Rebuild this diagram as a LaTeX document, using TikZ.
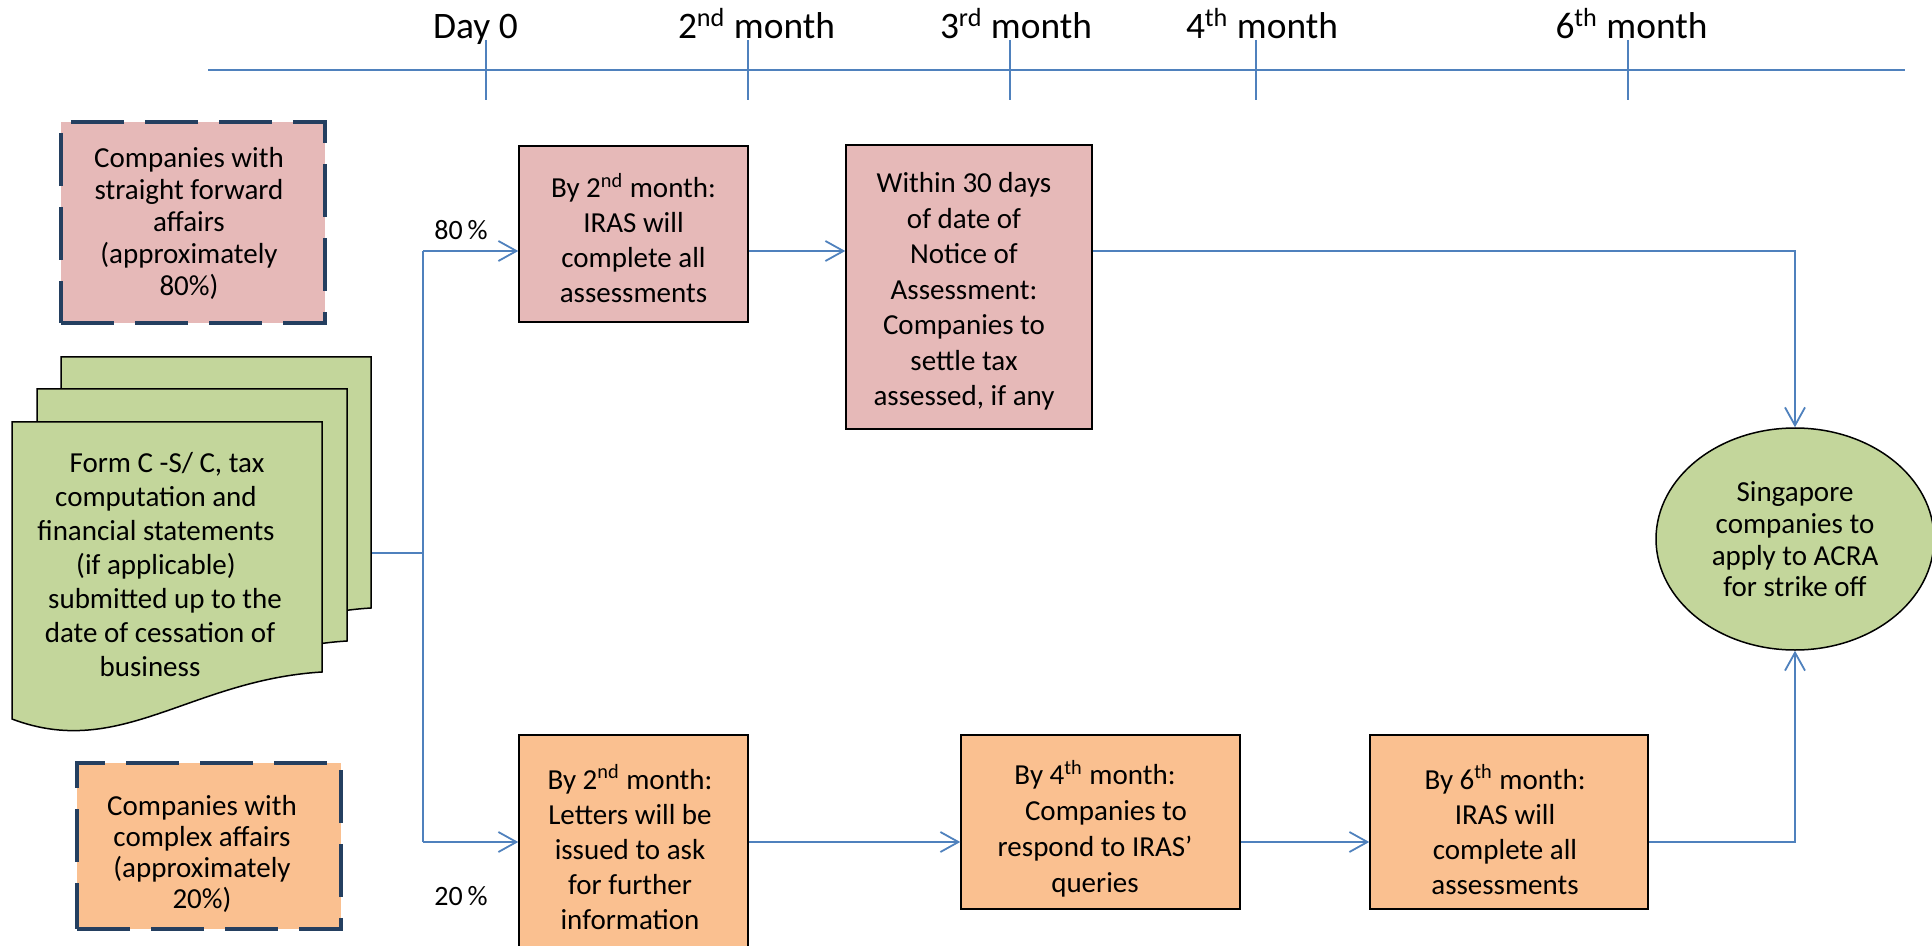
\documentclass[tikz,border=0pt]{standalone}
\usepackage{fontspec}
\setmainfont{Carlito}
\usetikzlibrary{arrows.meta,shapes.geometric}
\definecolor{pinkc}{HTML}{E6B9B8}
\definecolor{peachc}{HTML}{FAC090}
\definecolor{greenc}{HTML}{C3D69B}
\definecolor{bluec}{HTML}{4F81BD}
\definecolor{navyc}{HTML}{243F60}
\newcommand{\docsheet}[3]{%
  \filldraw[sheet] (#1,#2) -- ({#1+310},#2) -- ({#1+310},#3)
    .. controls ({#1+178},{#3+8}) and ({#1+108},{#3+88}) .. (#1,{#3+47}) -- cycle;}
\begin{document}
\begin{tikzpicture}[x=0.5pt,y=-0.5pt,
  txt/.style={align=center, inner sep=0pt},
  fs/.style={font=\fontsize{14.5}{#1}\selectfont},
  box/.style={draw=black, line width=0.75pt, inner sep=0pt},
  dashbox/.style={draw=navyc, line width=2.25pt, dash pattern=on 26.5pt off 10.5pt, inner sep=0pt, line join=miter},
  sheet/.style={fill=greenc, draw=black, line width=0.75pt},
  conn/.style={draw=bluec, line width=0.9pt},
  arr/.style={conn, -{Straight Barb[length=9pt,width=10pt,line width=0.9pt]}},
  tick/.style={draw=bluec, line width=0.7pt},
  tlline/.style={draw=bluec, line width=1pt},
  tl/.style={font=\fontsize{18.7}{22}\selectfont, anchor=base, inner sep=0pt},
  pct/.style={font=\fontsize{14}{17}\selectfont, anchor=base, inner sep=0pt}]
\useasboundingbox (0,0) rectangle (1932,946);

% timeline
\coordinate (tlL) at (208,70);
\coordinate (tlR) at (1905,70);
\draw[tlline] (tlL) -- (tlR);
\foreach \n/\x in {a/486,b/748,c/1010,d/1256,e/1628}{
  \coordinate (tk\n1) at (\x,40);
  \coordinate (tk\n2) at (\x,100);
  \draw[tick] (tk\n1) -- (tk\n2);
}
\node[tl] (l0) at (475.5,39) {Day 0};
\node[tl] (l2) at (756.5,39) {2\textsuperscript{nd} month};
\node[tl] (l3) at (1016,39) {3\textsuperscript{rd} month};
\node[tl] (l4) at (1262,39) {4\textsuperscript{th} month};
\node[tl] (l6) at (1631.5,39) {6\textsuperscript{th} month};

% left dashed boxes
\node[dashbox, fill=pinkc, minimum width=132pt, minimum height=100.5pt] (A) at (193,222.5) {};
\node[txt, fs=16.1pt] (At) at (189,223.5)
  {Companies with\\straight forward\\affairs\\(approximately\\80\%)};
\node[dashbox, fill=peachc, minimum width=132pt, minimum height=83pt] (B) at (209,846) {};
\node[txt, fs=15.5pt] (Bt) at (202,853.5)
  {Companies with\\complex affairs\\(approximately\\20\%)};

% multi-document
\docsheet{61}{357}{608}
\docsheet{37}{389}{641}
\docsheet{12}{422}{672}
\node[txt, fs=17pt] (doc) at (156,565)
  {\hspace*{11pt}Form C -S/ C, tax\\computation and\hspace*{5pt}\\financial statements\\(if applicable)\\\hspace*{9pt}submitted up to the\\\hspace*{4pt}date of cessation of\\business\hspace*{6pt}};
\coordinate (docR) at (372,553);

% process boxes
\node[box, fill=pinkc, minimum width=114.5pt, minimum height=88pt] (C) at (633.5,234) {};
\node[txt, fs=17.5pt] (Ct) at (633.5,238)
  {By 2\textsuperscript{nd} month:\\IRAS will\\complete all\\assessments};
\node[box, fill=pinkc, minimum width=123pt, minimum height=142pt] (D) at (969,287) {};
\node[txt, fs=17.75pt] (Dt) at (964,291.5)
  {Within 30 days\\of date of\\Notice of\\Assessment:\\Companies to\\settle tax\\assessed, if any};
\node[box, fill=peachc, minimum width=114.5pt, minimum height=112pt] (F) at (633.5,847) {};
\node[txt, fs=17.5pt] (Ft) at (630,847)
  {By 2\textsuperscript{nd} month:\\Letters will be\\issued to ask\\for further\\information};
\node[box, fill=peachc, minimum width=139.5pt, minimum height=87pt] (G) at (1100.5,822) {};
\node[txt, fs=18pt] (Gt) at (1095,829)
  {By 4\textsuperscript{th} month:\\\hspace*{11pt}Companies to\\respond to IRAS’\\queries};
\node[box, fill=peachc, minimum width=139pt, minimum height=87pt] (H) at (1509,822) {};
\node[txt, fs=17.5pt] (Ht) at (1505,829.5)
  {By 6\textsuperscript{th} month:\\IRAS will\\complete all\\assessments};
\node[ellipse, draw=black, line width=0.75pt, fill=greenc, inner sep=0pt,
  minimum width=139pt, minimum height=111pt] (E) at (1795,539) {};
\node[txt, fs=15.85pt] (Et) at (1795,539.5)
  {Singapore\\companies to\\apply to ACRA\\for strike off};

% labels
\node[pct] (p80) at (461,240) {80\,\%};
\node[pct] (p20) at (461,905) {20\,\%};

% connectors
\coordinate (br) at (423,553);
\coordinate (r1) at (423,251);
\coordinate (r2) at (423,842);
\draw[conn] (docR) -- (br);
\draw[conn] (r1) -- (r2);
\draw[arr] (r1) -- (r1 -| C.west);
\draw[arr] (r2) -- (r2 -| F.west);
\draw[arr] (C.east |- r1) -- (D.west |- r1);
\draw[arr] (D.east |- r1) -| (E.north);
\draw[arr] (F.east |- r2) -- (G.west |- r2);
\draw[arr] (G.east |- r2) -- (H.west |- r2);
\draw[arr] (H.east |- r2) -| (E.south);
\end{tikzpicture}
\end{document}
